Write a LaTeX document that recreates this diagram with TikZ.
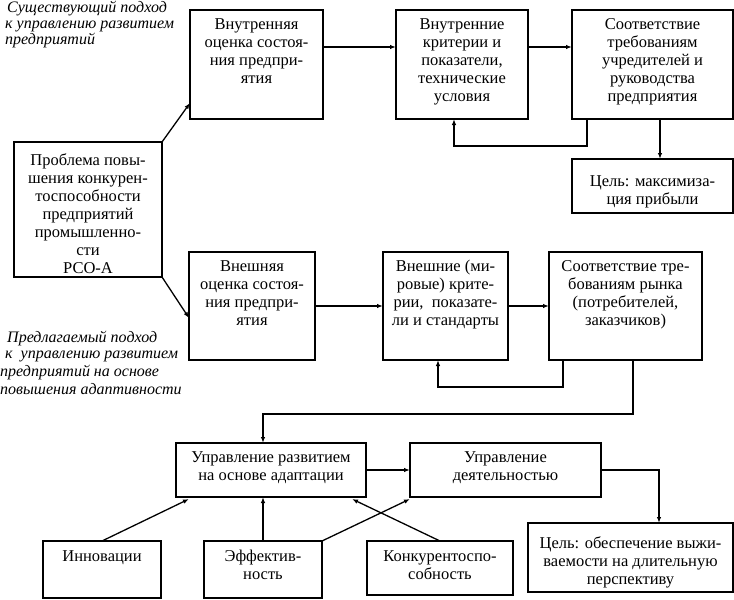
\documentclass[tikz,border=0pt]{standalone}
\usepackage{fontspec}
\setmainfont{Liberation Serif}
\usetikzlibrary{arrows.meta,calc}
\begin{document}
\begin{tikzpicture}[x=1pt,y=-1pt,
  box/.style={draw=black,line width=1.3pt,inner sep=0pt,outer sep=0pt,fill=white},
  txt/.style={align=center,anchor=north,inner sep=0pt,font=\fontsize{16.5}{18}\selectfont},
  note/.style={anchor=base west,inner sep=0pt,font=\fontsize{16}{17}\selectfont\itshape},
  arr/.style={line width=1.3pt,-{Latex[length=6pt,width=4.5pt]}},
  ln/.style={line width=1.3pt}]
\useasboundingbox (0,0) rectangle (734,600);
% boxes
\node[box,minimum width=133pt,minimum height=109pt] (b1) at (256.5,64.5) {};
\node[box,minimum width=132pt,minimum height=109pt] (b2) at (462,64.5) {};
\node[box,minimum width=161pt,minimum height=109pt] (b3) at (652.5,64.5) {};
\node[box,minimum width=161pt,minimum height=54pt] (g1) at (652.5,186) {};
\node[box,minimum width=148pt,minimum height=135pt] (pr) at (88,209.5) {};
\node[box,minimum width=126pt,minimum height=108pt] (b4) at (252,306) {};
\node[box,minimum width=125pt,minimum height=108pt] (b5) at (445.5,306) {};
\node[box,minimum width=153pt,minimum height=108pt] (b6) at (625.5,306) {};
\node[box,minimum width=190pt,minimum height=54pt] (u1) at (271,470) {};
\node[box,minimum width=191pt,minimum height=54pt] (u2) at (505.5,470) {};
\node[box,minimum width=205pt,minimum height=69pt] (g2) at (630.5,557.5) {};
\node[box,minimum width=118pt,minimum height=57pt] (in) at (102,569.5) {};
\node[box,minimum width=118pt,minimum height=57pt] (ef) at (263,569.5) {};
\node[box,minimum width=146pt,minimum height=54pt] (ko) at (440,568) {};
% texts
\node[txt] (t1) at (256.5,18) {Внутренняя\\оценка состоя-\\ния предпри-\\ятия};
\node[txt] (t2) at (462,18) {Внутренние\\критерии и\\показатели,\\технические\\условия};
\node[txt] (t3) at (652.5,18) {Соответствие\\требованиям\\учредителей и\\руководства\\предприятия};
\node[txt] (tg1) at (652.5,175) {Цель: максимиза-\\ция прибыли};
\node[txt] (tpr) at (88,153) {Проблема повы-\\шения конкурен-\\тоспособности\\предприятий\\промышленно-\\сти\\РСО-А};
\node[txt] (t4) at (252,260) {Внешняя\\оценка состоя-\\ния предпри-\\ятия};
\node[txt] (t5) at (445.5,260) {Внешние (ми-\\ровые) крите-\\рии,\ \ показате-\\ли и стандарты};
\node[txt] (t6) at (625.5,260) {Соответствие тре-\\бованиям рынка\\(потребителей,\\заказчиков)};
\node[txt] (tu1) at (271,451) {Управление развитием\\на основе адаптации};
\node[txt] (tu2) at (505.5,451) {Управление\\деятельностью};
\node[txt] (tg2) at (630.5,536) {Цель: обеспечение выжи-\\ваемости на длительную\\перспективу};
\node[txt] (tin) at (102,550) {Инновации};
\node[txt] (tef) at (263,550) {Эффектив-\\ность};
\node[txt] (tko) at (440,550) {Конкурентоспо-\\собность};
% notes
\node[note] (n1) at (7,12) {Существующий подход};
\node[note] (n2) at (5,28) {к управлению развитием};
\node[note] (n3) at (5,44) {предприятий};
\node[note] (n4) at (7,342) {Предлагаемый подход};
\node[note] (n5) at (5,358) {к\ \ управлению развитием};
\node[note] (n6) at (0,376) {предприятий на основе};
\node[note] (n7) at (0,394) {повышения адаптивности};
% helper coordinates
\coordinate (r1) at (0,47);
\coordinate (fa) at (587,146);
\coordinate (fb) at (454,146);
\coordinate (gx) at (660,0);
\coordinate (fc) at (563,387);
\coordinate (fd) at (438,387);
\coordinate (fe) at (633,414);
\coordinate (ff) at (263,414);
\coordinate (fg) at (659,470);
% connectors
\draw[arr] (pr.north east) -- ($(b1.west)+(0,38.5)$);
\draw[arr] (pr.south east) -- ($(b4.west)+(0,12)$);
\draw[arr] (b1.east |- r1) -- (b2.west |- r1);
\draw[arr] (b2.east |- r1) -- (b3.west |- r1);
\draw[arr] (b3.south -| fa) -- (fa) -- (fb) -- (b2.south -| fb);
\draw[arr] (b3.south -| gx) -- (g1.north -| gx);
\draw[arr] (b4.east) -- (b5.west);
\draw[arr] (b5.east) -- (b6.west);
\draw[arr] (b6.south -| fc) -- (fc) -- (fd) -- (b5.south -| fd);
\draw[arr] (b6.south -| fe) -- (fe) -- (ff) -- (u1.north -| ff);
\draw[arr] (u1.east) -- (u2.west);
\draw[arr] (u2.east) -- (fg) -- (g2.north -| fg);
\draw[arr] (in.north) -- ($(u1.south west)+(13,2)$);
\draw[arr] (ef.north) -- (u1.south -| ef.north);
\draw[arr] (ef.north east) -- ($(u2.south west)+(0,2)$);
\draw[arr] (ko.north) -- ($(u1.south east)+(-14,2)$);
\end{tikzpicture}
\end{document}
